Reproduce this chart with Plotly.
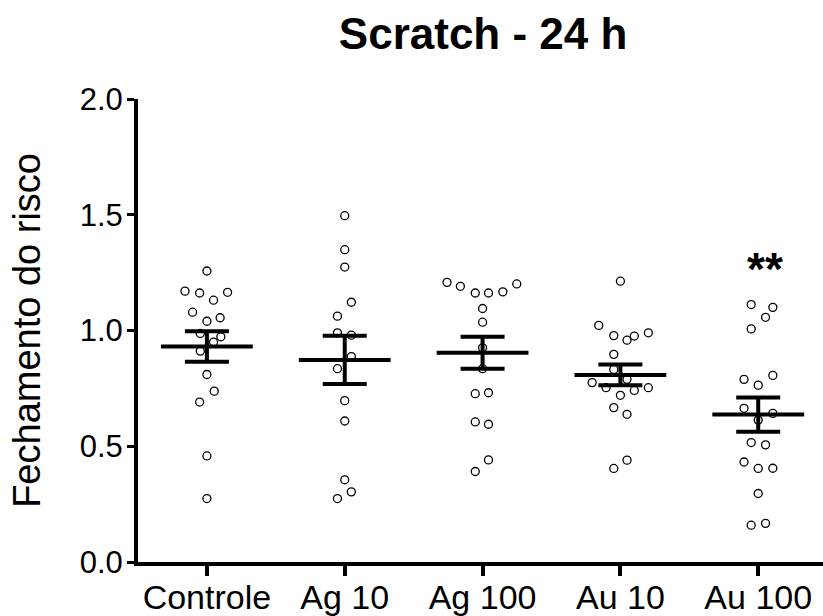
import plotly.graph_objects as go

categories = ["Controle", "Ag 10", "Ag 100", "Au 10", "Au 100"]

controle = [1.257, 1.170, 1.162, 1.131, 1.165, 1.079, 1.040, 1.055, 0.987, 0.973,
            0.950, 0.911, 0.810, 0.738, 0.691, 0.458, 0.274]
ag10 = [1.496, 1.349, 1.274, 1.122, 1.062, 0.990, 0.980, 0.887, 0.835, 0.697,
        0.609, 0.355, 0.303, 0.274]
ag100 = [1.208, 1.191, 1.162, 1.162, 1.167, 1.201, 1.095, 1.036, 0.925, 0.835,
         0.727, 0.731, 0.605, 0.595, 0.441, 0.391]
au10 = [1.213, 1.022, 0.978, 0.958, 0.976, 0.990, 0.897, 0.832, 0.789, 0.775,
        0.753, 0.741, 0.753, 0.720, 0.667, 0.638, 0.440, 0.404]
au100 = [1.112, 1.100, 1.057, 1.007, 0.789, 0.764, 0.806, 0.664, 0.642, 0.613,
         0.516, 0.506, 0.432, 0.404, 0.405, 0.296, 0.159, 0.167]

means = [0.931, 0.873, 0.904, 0.808, 0.637]
sems = [0.066, 0.104, 0.069, 0.045, 0.074]

significance = ["", "", "", "", "**"]
significance_y = [None, None, None, None, 1.266]

# horizontal scatter offsets of the points within each column (category units)
jitter = [
    [0, -0.159, -0.053, 0.048, 0.150, -0.104, 0, 0.096, -0.048, 0.101,
     0.048, -0.048, 0, 0.053, -0.053, 0, 0],
    [0, 0, 0, 0.048, -0.053, -0.053, 0.048, 0.048, -0.053, 0,
     0, 0, 0.048, -0.053],
    [-0.258, -0.161, -0.053, 0.043, 0.147, 0.248, 0, 0, 0, 0,
     -0.053, 0.043, -0.053, 0.043, 0.043, -0.053],
    [0, -0.157, -0.048, 0.048, 0.101, 0.203, -0.048, -0.048, 0.048, -0.205,
     -0.104, 0.101, 0.203, 0, -0.048, 0.048, 0.048, -0.048],
    [-0.051, 0.106, 0.053, -0.051, -0.103, 0, 0.106, -0.103, 0.106, 0,
     -0.051, 0.053, -0.103, 0, 0.106, 0, -0.051, 0.053],
]

groups = [controle, ag10, ag100, au10, au100]
FONT = "Arial, 'Liberation Sans', Helvetica, sans-serif"

fig = go.Figure()

# individual points
for i, (vals, dx) in enumerate(zip(groups, jitter)):
    fig.add_trace(go.Scatter(
        x=[i + d for d in dx], y=vals, mode="markers",
        marker=dict(symbol="circle", size=8, color="white",
                    line=dict(color="black", width=1.3)),
        showlegend=False, hoverinfo="y"))

# mean lines
mx, my = [], []
for i, m in enumerate(means):
    mx += [i - 0.333, i + 0.333, None]
    my += [m, m, None]
fig.add_trace(go.Scatter(x=mx, y=my, mode="lines",
                         line=dict(color="black", width=4),
                         showlegend=False, hoverinfo="skip"))

# SEM error bars
fig.add_trace(go.Scatter(
    x=list(range(len(categories))), y=means, mode="markers",
    marker=dict(size=1, color="rgba(0,0,0,0)"),
    error_y=dict(type="data", array=sems, visible=True,
                 color="black", thickness=4, width=22),
    showlegend=False, hoverinfo="skip"))

annotations = []
for i, (s, sy) in enumerate(zip(significance, significance_y)):
    if s:
        annotations.append(dict(x=i + 0.05, y=sy, xref="x", yref="y", text="<b>" + s + "</b>",
                                showarrow=False, xanchor="center", yanchor="middle",
                                font=dict(family=FONT, size=46, color="black")))

annotations.append(dict(text="Fechamento do risco", textangle=-90,
                        xref="paper", yref="paper", x=-0.163, y=0.5,
                        xanchor="center", yanchor="middle", showarrow=False,
                        font=dict(family=FONT, size=38, color="black")))

fig.update_layout(
    width=823, height=616,
    margin=dict(l=138, r=0, t=99, b=54, pad=0, autoexpand=False),
    paper_bgcolor="white", plot_bgcolor="white",
    title=dict(text="<b>Scratch - 24 h</b>", x=0.587, xref="container",
               y=1 - 34 / 616, yref="container", xanchor="center", yanchor="middle",
               font=dict(family=FONT, size=44, color="black")),
    xaxis=dict(range=[-0.5, 4.47], tickmode="array", automargin=False,
               tickvals=list(range(len(categories))), ticktext=categories,
               showline=True, linecolor="black", linewidth=4,
               ticks="outside", ticklen=10, tickwidth=4, tickcolor="black",
               showgrid=False, zeroline=False,
               tickfont=dict(family=FONT, size=34, color="black")),
    yaxis=dict(range=[0, 2], tickmode="array", tickvals=[0, 0.5, 1.0, 1.5, 2.0],
               ticktext=["0.0", "0.5", "1.0", "1.5", "2.0"], automargin=False,
               showline=True, linecolor="black", linewidth=4,
               ticks="outside", ticklen=7, tickwidth=3, tickcolor="black",
               showgrid=False, zeroline=False,
               tickfont=dict(family=FONT, size=31, color="black")),
    annotations=annotations,
)

try:
    fig.update_xaxes(ticklabelstandoff=-8)
    fig.update_yaxes(ticklabelstandoff=-2)
except Exception:
    pass

fig.write_html("out.html", config={"displayModeBar": False},
               post_script="document.body.style.margin='0';document.body.style.overflow='hidden';")
